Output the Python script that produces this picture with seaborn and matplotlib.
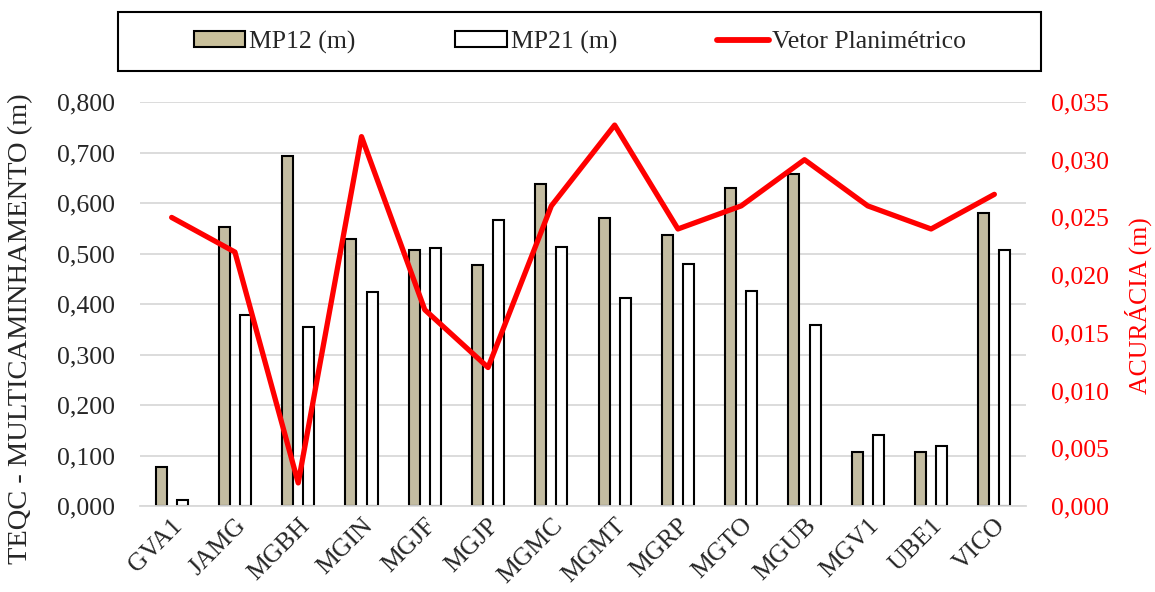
import matplotlib
matplotlib.use("Agg")
import matplotlib.pyplot as plt
from matplotlib.patches import Rectangle, Patch
from matplotlib.lines import Line2D
from matplotlib.ticker import FuncFormatter
import seaborn as sns
import pandas as pd

stations = ["GVA1", "JAMG", "MGBH", "MGIN", "MGJF", "MGJP", "MGMC",
            "MGMT", "MGRP", "MGTO", "MGUB", "MGV1", "UBE1", "VICO"]
mp12 = [0.078, 0.553, 0.693, 0.529, 0.506, 0.477, 0.637,
        0.570, 0.537, 0.630, 0.658, 0.107, 0.106, 0.581]
mp21 = [0.011, 0.378, 0.354, 0.423, 0.510, 0.566, 0.513,
        0.411, 0.479, 0.426, 0.359, 0.140, 0.119, 0.506]
vetor = [0.025, 0.022, 0.002, 0.032, 0.017, 0.012, 0.026,
         0.033, 0.024, 0.026, 0.030, 0.026, 0.024, 0.027]

series_names = ["MP12 (m)", "MP21 (m)"]
line_name = "Vetor Planimétrico"
left_label = "TEQC - MULTICAMINHAMENTO (m)"
right_label = "ACURÁCIA (m)"

bars = pd.DataFrame({
    "estacao": stations * 2,
    "valor": mp12 + mp21,
    "serie": [series_names[0]] * len(stations) + [series_names[1]] * len(stations),
})
acc = pd.DataFrame({"estacao": stations, "acuracia": vetor})

sns.set_style("white")
plt.rcParams["font.family"] = ["Liberation Serif", "DejaVu Serif"]
FS = 18.5

fill_colors = {series_names[0]: "#c9c09b", series_names[1]: "#ffffff"}

fig = plt.figure(figsize=(11.55, 5.92), dpi=100)
ax = fig.add_axes([140 / 1155, 1 - 506 / 592, 886 / 1155, 404 / 592])

sns.barplot(data=bars, x="estacao", y="valor", hue="serie", order=stations,
            hue_order=series_names, palette=fill_colors, width=0.664, gap=0.476,
            edgecolor="black", linewidth=1.5, legend=False, ax=ax, zorder=2)

ax.set_ylim(0, 0.8)
ax.set_yticks([i / 10 for i in range(9)])
ax.yaxis.set_major_formatter(FuncFormatter(lambda v, p: f"{v:.3f}".replace(".", ",")))
ax.set_xlim(-0.5, len(stations) - 0.5)
ax.grid(axis="y", color="#d9d9d9", linewidth=1.3, zorder=0)
ax.set_axisbelow(True)
for side in ["top", "right", "left"]:
    ax.spines[side].set_visible(False)
ax.spines["bottom"].set_color("#d9d9d9")
ax.spines["bottom"].set_linewidth(1.3)
ax.tick_params(axis="both", length=0, labelsize=FS)
ax.tick_params(axis="y", pad=18)
ax.set_xlabel("")
ax.set_ylabel(left_label, fontsize=20.5)
ax.yaxis.set_label_coords(-0.121, 0.44)
plt.setp(ax.get_xticklabels(), rotation=45, ha="right", rotation_mode="anchor")
ax.tick_params(axis="x", pad=6)

ax2 = ax.twinx()
sns.lineplot(data=acc, x="estacao", y="acuracia", color="#ff0000", linewidth=3.8,
             sort=False, ax=ax2)
ax2.set_ylim(0, 0.035)
ax2.set_yticks([i * 0.005 for i in range(8)])
ax2.yaxis.set_major_formatter(FuncFormatter(lambda v, p: f"{v:.3f}".replace(".", ",")))
ax2.tick_params(axis="y", length=0, labelsize=FS, colors="#ff0000", pad=18)
ax2.set_ylabel(right_label, fontsize=FS, color="#ff0000")
ax2.yaxis.set_label_coords(1.111, 0.495)
for side in ["top", "right", "left", "bottom"]:
    ax2.spines[side].set_visible(False)
ax2.set_xlim(-0.5, len(stations) - 0.5)

# legend box across the top
fig.patches.append(Rectangle((118 / 1155, 1 - 71 / 592), 923 / 1155, 59 / 592,
                             transform=fig.transFigure, fill=False,
                             edgecolor="black", linewidth=1.5))
handles = [Patch(facecolor=fill_colors[series_names[0]], edgecolor="black", linewidth=1.5),
           Patch(facecolor=fill_colors[series_names[1]], edgecolor="black", linewidth=1.5),
           Line2D([], [], color="#ff0000", linewidth=4.2)]
fig.legend(handles, series_names + [line_name], loc="center",
           bbox_to_anchor=(580 / 1155, 1 - 42 / 592), ncol=3, frameon=False,
           fontsize=FS, handlelength=2.0, handleheight=0.55, handletextpad=0.15,
           columnspacing=3.9)

fig.savefig("out.png", dpi=100)
